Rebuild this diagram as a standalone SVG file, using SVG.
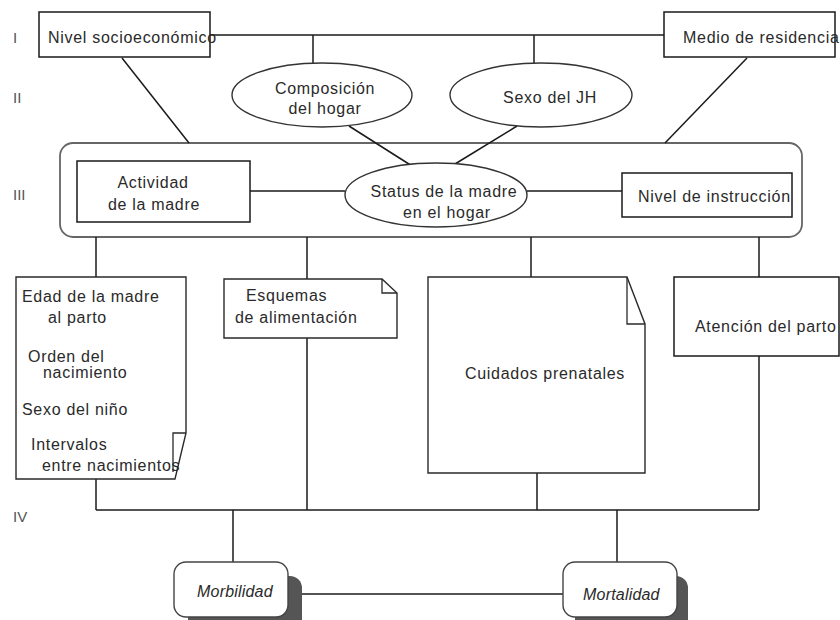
<svg xmlns="http://www.w3.org/2000/svg" width="840" height="620" viewBox="0 0 840 620">
<style>
text{font-family:"Liberation Sans",Arial,sans-serif;font-size:16px;letter-spacing:0.7px;fill:#2a2a2a}
.lvl{fill:#555;font-size:15px;letter-spacing:0}
.box{fill:#fff;stroke:#1a1a1a;stroke-width:1.5}
.ell{fill:#fff;stroke:#333;stroke-width:1.4}
.page{fill:#fff;stroke:#2a2a2a;stroke-width:1.4;stroke-linejoin:miter}
.fold{fill:none;stroke:#2a2a2a;stroke-width:1.3}
.frame{fill:#fff;stroke:#666;stroke-width:1.8}
.out{fill:#fff;stroke:#444;stroke-width:1.4}
.shadow{fill:#555}
.it{font-style:italic;letter-spacing:0.2px}
.mid{text-anchor:middle}
#connectors line,#connectors path{stroke:#1a1a1a;stroke-width:1.5;fill:none}
</style>
<rect width="840" height="620" fill="#fff"/>

<g id="levels">
<text class="lvl" x="13" y="43">I</text>
<text class="lvl" x="13" y="103">II</text>
<text class="lvl" x="13" y="200">III</text>
<text class="lvl" x="13" y="522">IV</text>
</g>

<g id="frame-III"><rect class="frame" x="60" y="143" width="742" height="94" rx="13"/></g>

<g id="connectors">
<line x1="210" y1="35" x2="664" y2="35"/>
<line x1="313" y1="35" x2="313" y2="63"/>
<line x1="534" y1="35" x2="534" y2="64"/>
<line x1="122" y1="58" x2="189" y2="143"/>
<line x1="747" y1="58" x2="665" y2="143"/>
<line x1="349" y1="126" x2="412" y2="166"/>
<line x1="517" y1="126" x2="455" y2="164"/>
<line x1="250" y1="191" x2="345" y2="191"/>
<line x1="527" y1="191" x2="622" y2="191"/>
<line x1="96" y1="237" x2="96" y2="277"/>
<line x1="307" y1="237" x2="307" y2="279"/>
<line x1="531" y1="237" x2="531" y2="277"/>
<line x1="759" y1="237" x2="759" y2="277"/>
<line x1="96" y1="479" x2="96" y2="510"/>
<line x1="307" y1="338" x2="307" y2="510"/>
<line x1="537" y1="473" x2="537" y2="510"/>
<line x1="759" y1="356" x2="759" y2="510"/>
<line x1="96" y1="510" x2="759" y2="510"/>
<line x1="233" y1="510" x2="233" y2="562"/>
<line x1="617" y1="510" x2="617" y2="562"/>
<line x1="288" y1="594" x2="563" y2="594"/>
</g>

<g id="nivel-socioeconomico">
<rect class="box" x="39" y="12" width="171" height="45"/>
<text x="48" y="43">Nivel socioeconómico</text>
</g>
<g id="medio-residencia">
<rect class="box" x="664" y="12" width="171" height="45"/>
<text x="683" y="43">Medio de residencia</text>
</g>
<g id="composicion-hogar">
<ellipse class="ell" cx="322" cy="95" rx="90" ry="32"/>
<text class="mid" x="325" y="94">Composición</text>
<text class="mid" x="325" y="114">del hogar</text>
</g>
<g id="sexo-jh">
<ellipse class="ell" cx="541" cy="95" rx="91" ry="32"/>
<text class="mid" x="550" y="103">Sexo del JH</text>
</g>

<g id="actividad-madre">
<rect class="box" x="77" y="161" width="173" height="61"/>
<text class="mid" x="153" y="188">Actividad</text>
<text class="mid" x="154" y="210">de la madre</text>
</g>
<g id="status-madre">
<ellipse class="ell" cx="436" cy="195" rx="91" ry="32"/>
<text class="mid" x="444" y="197">Status de la madre</text>
<text class="mid" x="447" y="218">en el hogar</text>
</g>
<g id="nivel-instruccion">
<rect class="box" x="622" y="173" width="170" height="44"/>
<text x="638" y="202">Nivel de instrucción</text>
</g>

<g id="edad-madre">
<path class="page" d="M16,277 H186 V433 L175,479 H16 Z"/>
<path class="fold" d="M186,433 H173 V472"/>
<text x="22" y="302">Edad de la madre</text>
<text x="48" y="323">al parto</text>
<text x="28" y="362">Orden del</text>
<text x="43" y="378">nacimiento</text>
<text x="22" y="415">Sexo del niño</text>
<text x="31" y="450">Intervalos</text>
<text x="42" y="471">entre nacimientos</text>
</g>

<g id="esquemas-alimentacion">
<path class="page" d="M224,279 H382 L397,293 V338 H224 Z"/>
<path class="fold" d="M382,279 V293 H397"/>
<text x="246" y="301">Esquemas</text>
<text x="235" y="323">de alimentación</text>
</g>

<g id="cuidados-prenatales">
<path class="page" d="M428,277 H627 L645,324 V473 H428 Z"/>
<path class="fold" d="M627,277 V324 H645"/>
<text x="465" y="379">Cuidados prenatales</text>
</g>

<g id="atencion-parto">
<rect class="box" x="674" y="277" width="165" height="79"/>
<text x="695" y="332">Atención del parto</text>
</g>

<g id="morbilidad">
<rect class="shadow" x="188" y="576" width="114" height="55" rx="12"/>
<rect class="out" x="174" y="562" width="114" height="55" rx="12"/>
<text class="it" x="197" y="597">Morbilidad</text>
</g>
<g id="mortalidad">
<rect class="shadow" x="575" y="576" width="113" height="55" rx="12"/>
<rect class="out" x="563" y="562" width="114" height="55" rx="12"/>
<text class="it" x="583" y="600">Mortalidad</text>
</g>
</svg>
